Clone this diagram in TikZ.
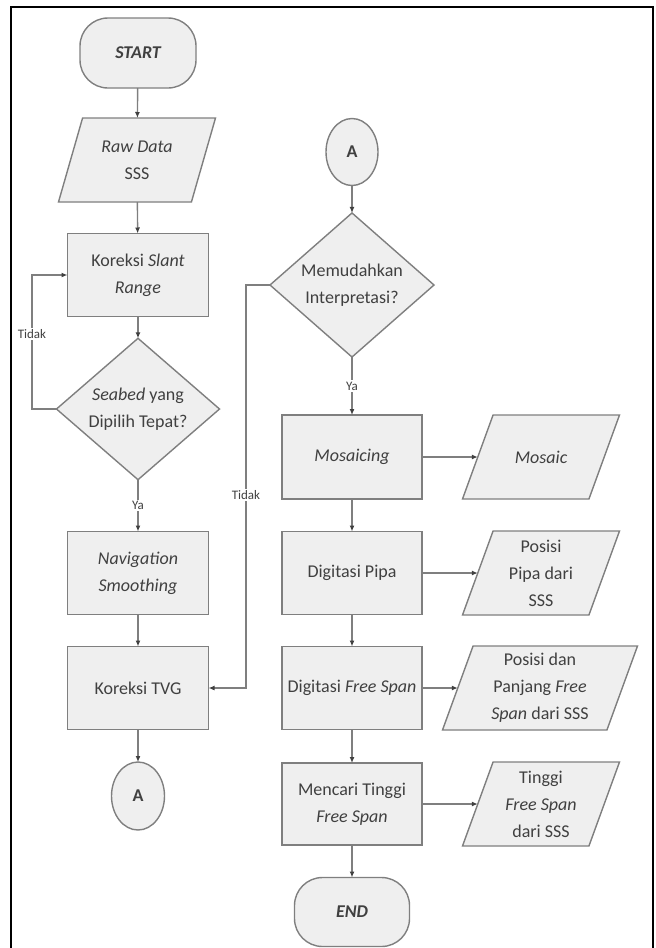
\documentclass[tikz,border=0pt]{standalone}
\usepackage{fontspec}
\setmainfont{Carlito}
\usetikzlibrary{shapes.geometric,arrows.meta}

\definecolor{linegray}{HTML}{7F7F7F}
\definecolor{boxfill}{HTML}{EFEFEF}
\definecolor{textgray}{HTML}{404040}

% fixed-height text block for the data shapes
\newcommand{\iobox}[2][95pt]{\parbox[c][84pt][c]{#1}{\centering #2}}

\tikzset{
  base/.style={draw=linegray, fill=boxfill, line width=1.4pt, text=textgray,
    font=\fontsize{18}{27}\selectfont, align=center, inner sep=0pt, outer sep=0pt},
  process/.style={base, rectangle, minimum width=141pt, minimum height=83pt},
  io/.style={base, trapezium, trapezium left angle=70, trapezium right angle=110,
    trapezium stretches body, minimum width=157pt},
  decision/.style={base, diamond},
  terminal/.style={base, rounded corners=28pt, minimum width=116pt, minimum height=70pt,
    font=\fontsize{18}{27}\selectfont\bfseries\itshape},
  connector/.style={base, ellipse, minimum width=53pt, minimum height=68pt,
    font=\fontsize{18}{27}\selectfont\bfseries},
  arr/.style={draw=linegray, line width=1.4pt, -{Latex[length=6pt,width=5pt,color=textgray]}},
  lbl/.style={fill=white, text=textgray, font=\fontsize{13}{13}\selectfont, inner sep=1.5pt}
}

\begin{document}
\begin{tikzpicture}[x=1pt,y=-1pt]
  \useasboundingbox (0,0) rectangle (656,948);
  \draw[line width=2pt] (11,948) -- (11,7) -- (653,7) -- (653,948);

  \coordinate (tidakL) at (32,409);
  \coordinate (tidakR) at (246,285);

  % left column
  \node[terminal] (start) at (138,53) {START};
  \node[io, trapezium left angle=74, trapezium right angle=106] (raw) at (137,160) {\iobox[105pt]{\textit{Raw Data}\\SSS}};
  \node[process] (slant) at (138,275) {Koreksi \textit{Slant}\\\textit{Range}};
  \node[decision, minimum width=163pt, minimum height=114pt] (seabed) at (138,409) {\textit{Seabed} yang\\Dipilih Tepat?};
  \node[process] (nav) at (138,573) {\textit{Navigation}\\\textit{Smoothing}};
  \node[process] (tvg) at (138,688) {Koreksi TVG};
  \node[connector] (aL) at (138,796) {A};

  % right column
  \node[connector, minimum width=52pt, minimum height=67pt] (aR) at (352,152) {A};
  \node[decision, minimum width=164pt, minimum height=129pt] (interp) at (352,285) {Memudahkan\\Interpretasi?};
  \node[process, minimum width=140pt, minimum height=84pt] (mosaicing) at (352,457) {\textit{Mosaicing}};
  \node[process, minimum width=140pt] (pipa) at (352,573) {Digitasi Pipa};
  \node[process, minimum width=140pt] (span) at (352,688) {Digitasi \textit{Free Span}};
  \node[process, minimum width=140pt, minimum height=82pt] (tinggi) at (352,804) {Mencari Tinggi\\\textit{Free Span}};
  \node[terminal, minimum width=115pt, minimum height=69pt] (end) at (352,912) {END};

  % outputs
  \node[io] (mosaic) at (541,457) {\iobox{\textit{Mosaic}}};
  \node[io] (posPipa) at (541,573) {\iobox{Posisi\\Pipa dari\\SSS}};
  \node[io, minimum width=195pt] (posSpan) at (540,688) {\iobox[130pt]{Posisi dan\\Panjang \textit{Free}\\\textit{Span} dari SSS}};
  \node[io] (hSpan) at (541,804) {\iobox{Tinggi\\\textit{Free Span}\\dari SSS}};

  \draw[arr] (start) -- (raw);
  \draw[arr] (raw) -- (slant);
  \draw[arr] (slant) -- (seabed);
  \draw[arr] (seabed) -- node[lbl]{Ya} (nav);
  \draw[arr] (seabed.west) -- (tidakL) |- node[lbl, pos=0.28]{Tidak} (slant.west);
  \draw[arr] (nav) -- (tvg);
  \draw[arr] (tvg) -- (aL);

  \draw[arr] (aR) -- (interp);
  \draw[arr] (interp) -- node[lbl]{Ya} (mosaicing);
  \draw[arr] (interp.west) -- (tidakR) |- node[lbl, pos=0.26]{Tidak} (tvg.east);
  \draw[arr] (mosaicing) -- (pipa);
  \draw[arr] (pipa) -- (span);
  \draw[arr] (span) -- (tinggi);
  \draw[arr] (tinggi) -- (end);

  \draw[arr] (mosaicing) -- (mosaic);
  \draw[arr] (pipa) -- (posPipa);
  \draw[arr] (span) -- (posSpan);
  \draw[arr] (tinggi) -- (hSpan);
\end{tikzpicture}
\end{document}
